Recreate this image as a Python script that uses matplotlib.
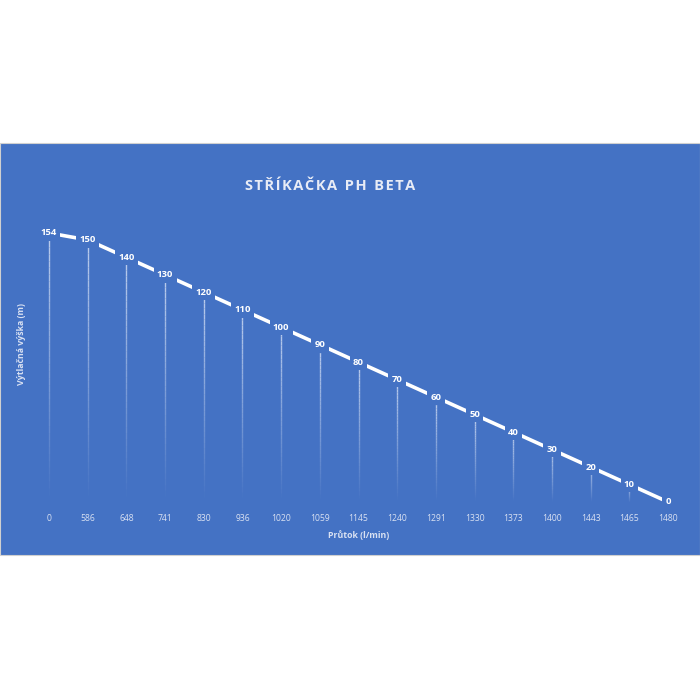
import numpy as np
import matplotlib
matplotlib.use("Agg")
from matplotlib import pyplot as plt
from matplotlib.collections import LineCollection
from matplotlib.patches import Rectangle

# data
prutok = ["0", "586", "648", "741", "830", "936", "1020", "1059", "1145",
          "1240", "1291", "1330", "1373", "1400", "1443", "1465", "1480"]
vyska = [154, 150, 140, 130, 120, 110, 100, 90, 80, 70, 60, 50, 40, 30, 20, 10, 0]

blue = "#4472C4"
light = "#D9E1F2"

plt.rcParams['font.family'] = ['Open Sans', 'DejaVu Sans']

fig = plt.figure(figsize=(7, 7), dpi=100, facecolor="white")

# blue panel
panel = Rectangle((0, 0.2071), 1, 0.5886, transform=fig.transFigure,
                  facecolor=blue, edgecolor="#d0d0d0", linewidth=0.8, zorder=-5)
fig.add_artist(panel)

ax = fig.add_axes([0.0424, 0.2829, 0.9396, 0.3843])
ax.set_zorder(2)
ax.set_facecolor("none")
x = np.arange(len(prutok))

# drop lines, fading to the bottom
for xi, v in zip(x, vyska):
    if v <= 0:
        continue
    ys = np.linspace(v, 0, 40)
    segs = [[(xi, ys[k]), (xi, ys[k + 1])] for k in range(len(ys) - 1)]
    alphas = np.linspace(0.8, 0.0, len(segs))
    cols = [(0.85, 0.89, 0.97, a) for a in alphas]
    ax.add_collection(LineCollection(segs, colors=cols, linewidths=1.0, zorder=1))

ax.plot(x, vyska, color="white", linewidth=2.6, zorder=2, clip_on=False)

for xi, v in zip(x, vyska):
    ax.text(xi, v, str(v), ha="center", va="center", color="white", fontsize=6.8,
            fontweight="bold", zorder=3,
            bbox=dict(boxstyle="square,pad=0.35", facecolor=blue, edgecolor="none"))

ax.set_xlim(-0.5, len(prutok) - 0.5)
ax.set_ylim(0, 154)
ax.set_xticks(x)
ax.set_xticklabels(prutok, color=light, fontsize=6.2)
ax.set_yticks([])
ax.tick_params(axis="x", length=0, pad=9)
for s in ax.spines.values():
    s.set_visible(False)

ax.set_xlabel("Průtok (l/min)", color=light, fontsize=6.3, fontweight="bold", labelpad=5)

fig.text(0.031, 0.509, "Výtlačná výška (m)", rotation=90, ha="center", va="center",
         color=light, fontsize=6.3, fontweight="bold")
fig.text(0.471, 0.734, "S\u200aT\u200aŘ\u200aÍ\u200aK\u200aA\u200aČ\u200aK\u200aA  P\u200aH  B\u200aE\u200aT\u200aA",
         ha="center", va="center", color="#E8ECF6", fontsize=10.5, fontweight="bold")

fig.savefig("out.png", dpi=100, facecolor="white")
